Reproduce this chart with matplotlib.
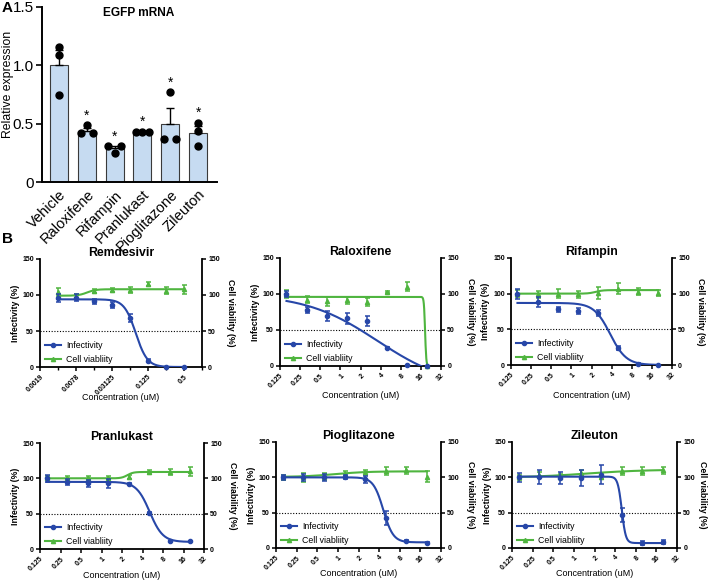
import numpy as np
import matplotlib
matplotlib.use('Agg')
import matplotlib.pyplot as plt
from matplotlib.ticker import FixedLocator, FixedFormatter, NullLocator, NullFormatter
from matplotlib.lines import Line2D

plt.rcParams['font.family'] = ['Liberation Sans', 'DejaVu Sans']

# ---------------- Panel A data ----------------
a_categories = ['Vehicle', 'Raloxifene', 'Rifampin', 'Pranlukast', 'Pioglitazone', 'Zileuton']
a_means = [1.00, 0.44, 0.29, 0.43, 0.50, 0.42]
a_sem = [0.13, 0.025, 0.02, 0.004, 0.135, 0.058]
a_points = [[1.16, 1.09, 0.75],
            [0.42, 0.49, 0.42],
            [0.31, 0.25, 0.31],
            [0.43, 0.43, 0.43],
            [0.37, 0.77, 0.37],
            [0.44, 0.51, 0.31]]
a_signif = ['', '*', '*', '*', '*', '*']
a_yticks = [0, 0.5, 1.0, 1.5]
a_yticklabels = ['0', '0.5', '1.0', '1.5']

# ---------------- Panel B data ----------------
b_titles = ['Remdesivir', 'Raloxifene', 'Rifampin', 'Pranlukast', 'Pioglitazone', 'Zileuton']
rem_conc = [0.00390625, 0.0078125, 0.015625, 0.03125, 0.0625, 0.125, 0.25, 0.5]
drug_conc = [0.15625, 0.3125, 0.625, 1.25, 2.5, 5, 10, 20]

rem_ticks = [0.001953125, 0.0078125, 0.03125, 0.125, 0.5]
rem_ticklabels = ['0.0019', '0.0078', '0.03125', '0.125', '0.5']
rem_minor = [0.00390625, 0.015625, 0.0625, 0.25, 1.0]
drug_ticks = [0.125, 0.25, 0.5, 1, 2, 4, 8, 16, 32]
drug_ticklabels = ['0.125', '0.25', '0.5', '1', '2', '4', '8', '16', '32']

# Infectivity (%) mean and error
rem_inf = [96, 96, 91, 86, 68, 9, 0, 0]
rem_inf_err = [6, 5, 4, 4, 5, 2, 0, 0]
ral_inf = [100, 78, 69, 66, 62, 25, 1, 0]
ral_inf_err = [4, 4, 7, 7, 7, 2, 1, 0]
rif_inf = [100, 88, 78, 76, 73, 24, 2, 0]
rif_inf_err = [7, 7, 4, 4, 4, 3, 1, 0]
pra_inf = [100, 95, 93, 93, 92, 51, 11, 11]
pra_inf_err = [5, 4, 5, 6, 1, 1, 1, 1]
pio_inf = [100, 100, 100, 100, 97, 43, 10, 7]
pio_inf_err = [4, 5, 5, 3, 5, 10, 1, 2]
zil_inf = [100, 100, 99, 99, 104, 47, 7, 8]
zil_inf_err = [6, 10, 8, 11, 14, 10, 3, 3]

# Cell viability (%) mean and error
rem_via = [104, 99, 106, 107, 107, 115, 106, 108]
rem_via_err = [6, 3, 3, 3, 4, 3, 5, 6]
ral_via = [100, 92, 90, 91, 89, 103, 110, 0]
ral_via_err = [5, 5, 6, 5, 6, 1, 6, 0]
rif_via = [100, 99, 100, 99, 101, 107, 103, 101]
rif_via_err = [5, 5, 6, 5, 9, 8, 5, 4]
pra_via = [100, 100, 100, 100, 102, 109, 109, 110]
pra_via_err = [3, 4, 3, 3, 3, 3, 4, 6]
pio_via = [100, 100, 101, 105, 107, 109, 110, 101]
pio_via_err = [4, 6, 5, 4, 4, 6, 5, 8]
zil_via = [100, 103, 101, 106, 101, 109, 109, 110]
zil_via_err = [4, 4, 4, 5, 4, 6, 5, 5]

# Fitted dose-response curves: (value at low conc, value at high conc, EC50, Hill slope)
inf_fit = [(94, 0, 0.078, 4.5),
           (100, -30, 3.58, 0.805),
           (87, 0, 3.8, 3.6),
           (95, 10, 5.1, 4.5),
           (100, 8, 4.6, 6),
           (101, 7, 5.0, 15)]
via_fit = [(99, 108, 0.012, 6),
           (96, 0, 18.5, 50),
           (100, 105, 2.3, 8),
           (100, 109, 2.4, 10),
           (100.5, 108.5, 0.9, 1.8),
           (99.5, 111, 1.5, 1.0)]

b_inf = [rem_inf, ral_inf, rif_inf, pra_inf, pio_inf, zil_inf]
b_inf_err = [rem_inf_err, ral_inf_err, rif_inf_err, pra_inf_err, pio_inf_err, zil_inf_err]
b_via = [rem_via, ral_via, rif_via, pra_via, pio_via, zil_via]
b_via_err = [rem_via_err, ral_via_err, rif_via_err, pra_via_err, pio_via_err, zil_via_err]

# ---------------- Styling / layout ----------------
W, H = 709, 580
BLUE = '#2747a8'
GREEN = '#4fb53f'
BAR = '#c6dbf1'

fig = plt.figure(figsize=(W / 100, H / 100), dpi=100)


def px_rect(l, r, t, b):
    return [l / W, 1 - b / H, (r - l) / W, (b - t) / H]


# ---------------- Panel A ----------------
axA = fig.add_axes(px_rect(42, 217, 7, 182))
xA = np.arange(len(a_categories))
axA.bar(xA, a_means, width=0.65, color=BAR, edgecolor='#3a3a3a', linewidth=0.8, zorder=2)
axA.errorbar(xA, a_means, yerr=[np.zeros(len(a_sem)), a_sem], fmt='none',
             ecolor='black', elinewidth=1.0, capsize=3.2, capthick=1.0, zorder=3)
a_slots = [[0, 0, 0], [-1, 0, 1], [-1, 0, 1], [-1, 0, 1], [-1, 0, 1], [0, 0, 0]]
for i, pts in enumerate(a_points):
    offs = np.array(a_slots[i]) * 0.22
    axA.plot(xA[i] + offs, pts, 'o', color='black', markersize=5, zorder=4)
    if a_signif[i]:
        top = max(max(pts), a_means[i] + a_sem[i])
        axA.text(xA[i], top + 0.045, a_signif[i], ha='center', va='baseline', fontsize=10)
axA.set_xlim(-0.61, 5.68)
axA.set_ylim(0, 1.5)
axA.set_yticks(a_yticks)
axA.set_yticklabels(a_yticklabels, fontsize=11)
axA.set_xticks(xA)
axA.set_xticklabels(a_categories, rotation=45, ha='right', rotation_mode='anchor', fontsize=10.5)
axA.tick_params(axis='x', length=0, pad=4)
axA.tick_params(axis='y', length=4, width=1.2, pad=2)
for s in ['top', 'right']:
    axA.spines[s].set_visible(False)
for s in ['left', 'bottom']:
    axA.spines[s].set_linewidth(1.4)
axA.text(-34 / 175, 0.56, 'Relative expression', transform=axA.transAxes, rotation=90,
         ha='center', va='center', fontsize=8.8)
axA.text(0.55, 1.0, 'EGFP mRNA', transform=axA.transAxes, ha='center', va='top',
         fontsize=8.6, fontweight='bold')

fig.text(2 / W, 1 - 1 / H, 'A', fontsize=11, fontweight='bold', ha='left', va='top')
fig.text(2 / W, 1 - 232 / H, 'B', fontsize=11, fontweight='bold', ha='left', va='top')

# ---------------- Panel B ----------------
b_rects = [(40, 202, 259, 367), (280, 441, 258, 366), (511, 672, 258, 365),
           (40, 204, 443, 549), (276, 441, 442, 548), (512, 677, 442, 548)]


def curve(x, p):
    y0, y1, ec50, h = p
    s = x ** h / (x ** h + ec50 ** h)
    return y0 + (y1 - y0) * s


for k in range(6):
    l, r, t, b = b_rects[k]
    ax = fig.add_axes(px_rect(l, r, t, b))
    wpx, hpx = r - l, b - t
    conc = np.array(rem_conc if k == 0 else drug_conc, dtype=float)
    ax.set_xscale('log', base=2)
    if k == 0:
        ax.set_xlim(0.001953125, 1.0)
        ax.xaxis.set_major_locator(FixedLocator(rem_ticks))
        ax.xaxis.set_major_formatter(FixedFormatter(rem_ticklabels))
        ax.xaxis.set_minor_locator(FixedLocator(rem_minor))
        ax.xaxis.set_minor_formatter(NullFormatter())
    else:
        ax.set_xlim(0.125, 32)
        ax.xaxis.set_major_locator(FixedLocator(drug_ticks))
        ax.xaxis.set_major_formatter(FixedFormatter(drug_ticklabels))
        ax.xaxis.set_minor_locator(NullLocator())
    ax.set_ylim(0, 150)
    ax.set_yticks([0, 50, 100, 150])
    ax.set_yticklabels(['0', '50', '100', '150'])

    # dotted 50% line
    ax.axhline(50, color='black', linestyle=(0, (1, 1.5)), linewidth=0.8, zorder=1)

    xs = np.geomspace(conc[0], conc[-1], 400)
    # viability
    ax.plot(xs, curve(xs, via_fit[k]), color=GREEN, linewidth=1.5, zorder=2)
    ax.errorbar(conc, b_via[k], yerr=b_via_err[k], fmt='^', color=GREEN, markersize=3,
                elinewidth=1.1, capsize=1.8, capthick=1.1, zorder=3, clip_on=False)
    # infectivity
    ax.plot(xs, curve(xs, inf_fit[k]), color=BLUE, linewidth=1.5, zorder=4)
    ax.errorbar(conc, b_inf[k], yerr=b_inf_err[k], fmt='o', color=BLUE, markersize=3,
                elinewidth=1.1, capsize=1.8, capthick=1.1, zorder=5, clip_on=False)

    for s in ['top', 'right']:
        ax.spines[s].set_visible(False)
    for s in ['left', 'bottom']:
        ax.spines[s].set_linewidth(1.3)
    ax.tick_params(axis='both', which='major', length=3, width=1.1, pad=1.5, labelsize=5)
    ax.tick_params(axis='x', which='minor', length=2, width=1.0)
    for lab in ax.get_xticklabels():
        lab.set_rotation(45)
        lab.set_ha('right')
        lab.set_rotation_mode('anchor')
        lab.set_fontweight('bold')
    for lab in ax.get_yticklabels():
        lab.set_fontweight('bold')

    axr = ax.twinx()
    axr.set_ylim(0, 150)
    axr.set_yticks([0, 50, 100, 150])
    axr.set_yticklabels(['0', '50', '100', '150'])
    for s in ['top', 'left', 'bottom']:
        axr.spines[s].set_visible(False)
    axr.spines['right'].set_linewidth(1.3)
    axr.tick_params(axis='y', length=3, width=1.1, pad=1.5, labelsize=5)
    for lab in axr.get_yticklabels():
        lab.set_fontweight('bold')

    ax.set_title(b_titles[k], fontsize=8.8, fontweight='bold', pad=2)
    ax.text(-25 / wpx, 0.5, 'Infectivity (%)', transform=ax.transAxes, rotation=90,
            ha='center', va='center', fontsize=6.3, fontweight='bold')
    rl_off = min(29, 703 - r)
    ax.text(1 + rl_off / wpx, 0.5, 'Cell viability (%)', transform=ax.transAxes, rotation=270,
            ha='center', va='center', fontsize=6.3, fontweight='bold')
    xl_off = 30 if k < 3 else 26
    ax.text(0.5, -xl_off / hpx, 'Concentration (uM)', transform=ax.transAxes,
            ha='center', va='center', fontsize=6.5)

    handles = [Line2D([], [], color=BLUE, marker='o', markersize=3, linewidth=1.5),
               Line2D([], [], color=GREEN, marker='^', markersize=3, linewidth=1.5)]
    ax.legend(handles, ['Infectivity', 'Cell viabliity'], loc='lower left',
              bbox_to_anchor=(5 / wpx, 3 / hpx), frameon=False, fontsize=6.3,
              borderpad=0, handlelength=1.8, handletextpad=0.6, labelspacing=0.55,
              borderaxespad=0)

fig.savefig('out.png', dpi=100)
